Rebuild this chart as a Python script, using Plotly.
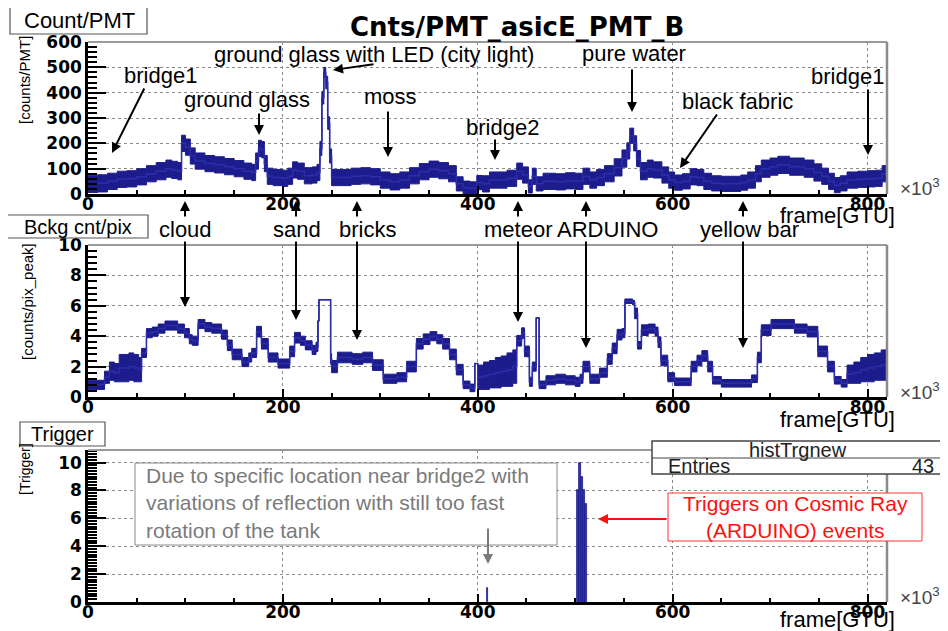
import plotly.graph_objects as go

# ---- data (frame in units of 10^3 GTU) ----
frame_pmt = [0, 10, 20, 30, 40, 50, 60, 70, 80, 86,
             92, 96, 100, 105, 110, 120, 130, 140, 150, 160,
             168, 172, 175, 178, 181, 184, 190, 200, 205, 210,
             215, 222, 230, 235, 238, 240, 242, 244, 246, 248,
             250, 260, 270, 280, 290, 300, 310, 320, 330, 340,
             350, 360, 370, 378, 385, 392, 399, 405, 412, 420,
             430, 440, 446, 452, 456, 460, 467, 480, 490, 500,
             508, 515, 522, 530, 540, 548, 553, 556, 560, 563,
             567, 574, 580, 589, 596, 602, 610, 618, 625, 632,
             640, 650, 660, 670, 677, 685, 691, 700, 708, 720,
             735, 745, 753, 760, 766, 772, 779, 790, 800, 808,
             815, 820]
counts_pmt = [40, 42, 50, 58, 60, 68, 80, 90, 100, 95,
              90, 200, 185, 150, 130, 120, 115, 108, 100, 90,
              85, 130, 180, 175, 120, 70, 65, 62, 70, 95,
              90, 72, 75, 85, 180, 380, 480, 440, 280, 150,
              65, 65, 70, 72, 68, 55, 48, 55, 72, 88,
              98, 92, 80, 40, 25, 22, 45, 40, 55, 55,
              62, 90, 75, 30, 70, 40, 50, 48, 52, 50,
              70, 55, 65, 80, 105, 140, 170, 230, 200, 140,
              90, 100, 95, 75, 55, 45, 50, 68, 65, 50,
              42, 40, 40, 45, 55, 80, 100, 108, 115, 108,
              100, 85, 70, 50, 35, 42, 55, 58, 60, 62,
              80, 85]
counts_pmt_err = [34, 34, 32, 32, 32, 32, 32, 34, 34, 34,
                  34, 32, 32, 32, 32, 32, 32, 32, 32, 32,
                  32, 32, 32, 32, 32, 32, 32, 32, 32, 32,
                  32, 32, 32, 32, 28, 25, 20, 25, 25, 28,
                  32, 32, 32, 32, 32, 32, 32, 32, 32, 32,
                  32, 32, 32, 28, 26, 26, 28, 32, 32, 32,
                  32, 32, 32, 26, 32, 28, 32, 32, 32, 32,
                  32, 32, 32, 32, 34, 34, 32, 30, 30, 32,
                  34, 34, 32, 32, 32, 30, 30, 32, 32, 32,
                  30, 30, 30, 30, 32, 32, 34, 34, 34, 34,
                  34, 34, 32, 32, 30, 30, 32, 32, 32, 32,
                  32, 32]

frame_pix = [0, 10, 17, 22, 27, 32, 37, 42, 47, 52,
             55, 60, 66, 72, 79, 86, 92, 99, 104, 107,
             113, 120, 127, 137, 143, 148, 158, 165, 168, 173,
             178, 185, 195, 202, 207, 212, 218, 223, 230, 234,
             236, 237, 249, 250, 256, 263, 271, 282, 292, 303,
             317, 327, 337, 344, 351, 358, 364, 371, 378, 385,
             392, 397, 400, 406, 412, 418, 424, 430, 436, 440,
             445, 448, 453, 456, 460, 463, 470, 480, 490, 500,
             505, 508, 515, 525, 533, 538, 543, 548, 551, 554,
             559, 561, 564, 568, 575, 582, 585, 588, 595, 602,
             610, 615, 619, 625, 630, 636, 641, 650, 660, 670,
             677, 681, 687, 691, 701, 712, 725, 738, 749, 759,
             766, 773, 779, 786, 793, 800, 807, 814, 820]
counts_pix = [0.8, 0.8, 1.3, 1.7, 1.6, 1.9, 1.9, 2.0, 1.9, 1.8,
              2.9, 4.2, 4.3, 4.5, 4.7, 4.7, 4.5, 4.2, 3.8, 3.7,
              4.8, 4.6, 4.5, 4.1, 3.4, 2.8, 2.3, 2.6, 2.9, 4.3,
              3.5, 2.6, 2.2, 2.2, 3.0, 3.9, 3.7, 3.4, 3.1, 3.3,
              5.0, 6.4, 2.5, 2.0, 2.6, 2.6, 2.5, 2.6, 2.1, 1.2,
              1.3, 2.0, 3.5, 3.8, 4.0, 3.8, 3.5, 2.8, 1.8, 0.8,
              0.6, 2.2, 1.3, 1.4, 1.5, 1.6, 1.7, 1.8, 2.0, 3.7,
              4.2, 3.0, 1.0, 2.0, 5.2, 0.8, 1.1, 1.2, 1.1, 1.0,
              1.2, 2.0, 1.2, 1.6, 2.5, 3.2, 4.1, 4.2, 6.3, 6.3,
              6.2, 5.5, 3.4, 4.4, 4.5, 4.3, 3.6, 2.4, 1.3, 1.0,
              1.0, 1.0, 2.0, 2.4, 2.7, 2.0, 1.1, 0.9, 0.9, 0.9,
              0.9, 1.2, 2.6, 4.4, 4.8, 4.8, 4.5, 4.3, 3.0, 2.0,
              1.1, 0.9, 1.5, 1.6, 1.8, 1.9, 2.0, 2.1, 2.4]
counts_pix_err = [0.3, 0.3, 0.4, 0.6, 0.6, 0.9, 0.9, 0.9, 0.9, 0.8,
                  0.3, 0.3, 0.3, 0.3, 0.3, 0.3, 0.3, 0.3, 0.3, 0.3,
                  0.3, 0.3, 0.3, 0.3, 0.35, 0.35, 0.3, 0.3, 0.3, 0.35,
                  0.35, 0.3, 0.3, 0.3, 0.35, 0.35, 0.3, 0.3, 0.3, 0.3,
                  0, 0, 0.35, 0.4, 0.35, 0.35, 0.35, 0.35, 0.35, 0.3,
                  0.3, 0.35, 0.35, 0.35, 0.3, 0.3, 0.35, 0.35, 0.35, 0.25,
                  0.25, 0, 0.8, 0.9, 0.9, 1.0, 1.0, 1.1, 1.1, 0.35,
                  0.35, 0.35, 0.3, 0.3, 0, 0.25, 0.3, 0.3, 0.3, 0.3,
                  0.3, 0.35, 0.3, 0.3, 0.35, 0.35, 0.35, 0.3, 0.15, 0.15,
                  0.15, 0.35, 0.25, 0.35, 0.3, 0.3, 0.35, 0.35, 0.3, 0.25,
                  0.25, 0.25, 0.35, 0.35, 0.35, 0.35, 0.25, 0.25, 0.25, 0.25,
                  0.25, 0.25, 0.35, 0.35, 0.3, 0.3, 0.3, 0.35, 0.35, 0.35,
                  0.25, 0.25, 0.6, 0.7, 0.8, 0.9, 0.9, 1.0, 0.6]

frame_trg = [410, 503, 505, 507, 509, 511]
trigger_counts = [1, 8, 10, 9, 8, 7]
trigger_entries = 43

x_ticks = [0, 200, 400, 600, 800]

# page has an 8px body margin: figure sits at (8, 8) in the 948x631 window
OFF = 8
W, H = 948 - OFF, 631 - OFF
NAVY = "rgb(28,28,140)"
TXT = "Liberation Sans"


def px(x):
    return (x - OFF) / W


def py(y):
    return 1 - (y - OFF) / H


def band(fig, x, v, e, xa, ya):
    lo = [a - b for a, b in zip(v, e)]
    hi = [a + b for a, b in zip(v, e)]
    common = dict(x=x, xaxis=xa, yaxis=ya, mode="lines", hoverinfo="skip", showlegend=False)
    fig.add_trace(go.Scatter(y=lo, line=dict(color=NAVY, width=1, shape="hv"), **common))
    fig.add_trace(go.Scatter(y=hi, line=dict(color=NAVY, width=1, shape="hv"),
                             fill="tonexty", fillcolor=NAVY, **common))
    fig.add_trace(go.Scatter(y=v, line=dict(color="rgb(45,45,170)", width=1.5, shape="hv"), **common))


fig = go.Figure()
band(fig, frame_pmt, counts_pmt, counts_pmt_err, "x", "y")
band(fig, frame_pix, counts_pix, counts_pix_err, "x2", "y2")
fig.add_trace(go.Bar(x=frame_trg, y=trigger_counts, xaxis="x3", yaxis="y3", width=1.4,
                     marker=dict(color="rgb(50,50,180)", line=dict(color=NAVY, width=0.8)),
                     showlegend=False, hoverinfo="skip"))

tickfont = dict(family="DejaVu Sans", size=17, color="black", weight="bold")


def xax(anchor):
    return dict(domain=[px(88), px(887)], anchor=anchor, range=[0, 820], automargin=False,
                tickvals=x_ticks, ticks="inside", ticklen=8, tickwidth=1.5, tickcolor="black",
                ticklabelstandoff=-7,
                showline=True, linecolor="black", linewidth=2.5,
                showgrid=True, gridcolor="#8a8a8a", griddash="dot", gridwidth=1.2,
                zeroline=False, tickfont=tickfont,
                minor=dict(dtick=50, ticks="inside", ticklen=4, tickcolor="black", showgrid=False))


def yax(anchor, top, bottom, rng, dtick, mdtick):
    return dict(domain=[py(bottom), py(top)], anchor=anchor, range=rng, dtick=dtick, tick0=0,
                automargin=False,
                ticks="inside", ticklen=18, tickwidth=1.5, tickcolor="black",
                showline=True, linecolor="black", linewidth=2.5,
                showgrid=True, gridcolor="#8a8a8a", griddash="dot", gridwidth=1.2,
                zeroline=False, tickfont=tickfont,
                minor=dict(dtick=mdtick, ticks="inside", ticklen=9, tickcolor="black", showgrid=False))


fig.update_layout(
    width=W, height=H, margin=dict(l=0, r=0, t=0, b=0, autoexpand=False),
    paper_bgcolor="white", plot_bgcolor="white", showlegend=False, bargap=0,
    xaxis=xax("y"), yaxis=yax("x", 42, 194, [0, 600], 100, 20),
    xaxis2=xax("y2"), yaxis2=yax("x2", 245, 397, [0, 10], 2, 0.4),
    xaxis3=xax("y3"), yaxis3=yax("x3", 450, 602, [0, 10.9], 2, 0.2),
)

shapes = []
annotations = []

# grey top/right frame of each pad
for top, bottom in [(42, 194), (245, 397), (450, 602)]:
    shapes.append(dict(type="line", xref="paper", yref="paper", x0=px(88), x1=px(887),
                       y0=py(top), y1=py(top), line=dict(color="#9a9a9a", width=2)))
    shapes.append(dict(type="line", xref="paper", yref="paper", x0=px(887), x1=px(887),
                       y0=py(top), y1=py(bottom), line=dict(color="#8a8a8a", width=2.5)))


def text(x, y, s, size=22, color="black", family=TXT, xanchor="center", angle=0, align="center"):
    annotations.append(dict(xref="paper", yref="paper", x=px(x), y=py(y), text=s,
                            showarrow=False, xanchor=xanchor, yanchor="middle",
                            textangle=angle, align=align,
                            font=dict(family=family, size=size, color=color)))


def arrow(x0, y0, x1, y1, color="black", width=2):
    annotations.append(dict(xref="paper", yref="paper", x=px(x1), y=py(y1), text="",
                            showarrow=True, axref="pixel", ayref="pixel",
                            ax=x0 - x1, ay=y0 - y1, arrowhead=2, arrowsize=1,
                            arrowwidth=width, arrowcolor=color, standoff=0))


def box(x0, y0, x1, y1, color="#555", width=1.2):
    shapes.append(dict(type="rect", xref="paper", yref="paper", x0=px(x0), x1=px(x1),
                       y0=py(y1), y1=py(y0), line=dict(color=color, width=width),
                       fillcolor="white", layer="above"))


# pad title boxes
box(10, 7, 147, 34)
text(79, 21, "Count/PMT", size=22)
box(7, 215, 148, 238)
text(78, 227, "Bckg cnt/pix", size=20)
box(20, 422, 105, 446)
text(62, 434, "Trigger", size=20)

text(517, 27, "<b>Cnts/PMT_asicE_PMT_B</b>", size=26, family="DejaVu Sans")

# y-axis titles
text(24, 80, "[counts/PMT]", size=15, angle=-90)
text(27, 302, "[counts/pix_peak]", size=15, angle=-90)
text(25, 469, "[Trigger]", size=14, angle=-90)

# x-axis multiplier and titles
for y in [187, 391, 596]:
    text(920, y, "×10<sup>3</sup>", size=19, color="#444")
for y in [215, 419, 619]:
    text(837, y, "frame[GTU]", size=22)

# labels in the upper pad
text(160, 76, "bridge1")
arrow(145, 87, 112, 153)
text(247, 99, "ground glass")
arrow(259, 112, 259, 135)
text(374, 54, "ground glass with LED (city light)")
arrow(375, 64, 333, 70)
text(390, 97, "moss")
arrow(388, 110, 388, 157)
text(503, 127, "bridge2")
arrow(495, 138, 495, 160)
text(634, 53, "pure water")
arrow(632, 68, 632, 112)
text(737, 101, "black fabric")
arrow(718, 113, 680, 168)
text(847, 77, "bridge1")
arrow(868, 88, 868, 155)

# labels between upper and middle pad
for x, s in [(185, "cloud"), (297, "sand"), (367, "bricks"),
             (518, "meteor"), (607, "ARDUINO"), (749, "yellow bar")]:
    text(x, 229, s)
for x, tip in [(185, 307), (296, 320), (357, 340), (518, 322), (586, 348), (743, 348)]:
    arrow(x, 218, x, 201)
    arrow(x, 240, x, tip)

# lower pad notes
box(135, 463, 557, 545, color="#8a8a8a", width=1)
text(144, 503, "Due to specific location near bridge2 with<br>"
               "variations of reflection with still too fast<br>rotation of the tank",
     size=21, color="#7a7a7a", xanchor="left", align="left")
arrow(488, 527, 488, 564, color="#7a7a7a", width=2)

box(668, 493, 922, 541, color="#ff3030", width=1)
text(795, 517, "Triggers on Cosmic Ray<br>(ARDUINO) events", size=21, color="#ff1010")
arrow(668, 519, 598, 519, color="#ff1010", width=2)

# stats box
box(652, 441, 945, 474, color="#444", width=1.5)
shapes.append(dict(type="line", xref="paper", yref="paper", x0=px(652), x1=px(945),
                   y0=py(458), y1=py(458), line=dict(color="#444", width=1.2)))
text(798, 450, "histTrgnew", size=20, color="#222")
text(666, 466, "Entries", size=20, color="#222", xanchor="left")
text(936, 466, str(trigger_entries), size=20, color="#222", xanchor="right")

fig.update_layout(shapes=shapes, annotations=annotations)
fig.write_html("out.html")
